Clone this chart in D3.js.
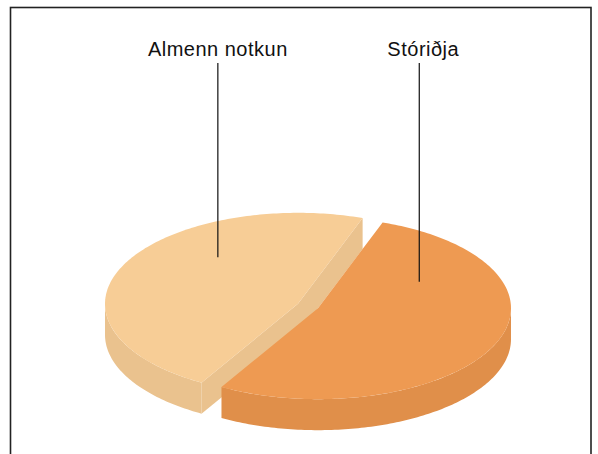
<!DOCTYPE html>
<html>
<head>
<meta charset="utf-8">
<script src="https://cdn.jsdelivr.net/npm/d3@7"></script>
<style>
  body { margin: 0; background: #fff; }
  svg { display: block; }
</style>
</head>
<body>
<div id="chart"></div>
<script>
// data
var categories = ["Almenn notkun", "Stóriðja"];
var values = [47.1, 52.9];
var topColors = ["#F7CD96", "#EE9A52"];
var sideColors = ["#EAC28E", "#E08F4A"];

var width = 598,
    height = 454,
    cx = 308, cy = 306,
    rx = 193, ry = 91,
    depth = 31,
    explode = 11,
    deg = Math.PI / 180;

// where the leader lines touch each slice (angle in deg, fraction of radius)
var leaderAngle = [321, 61],
    leaderFrac = [0.66, 0.6],
    labelY = 56,
    lineTop = 63;

var svg = d3.select("#chart").append("svg")
    .attr("width", width)
    .attr("height", height);

// frame
svg.append("rect")
    .attr("x", 10.5).attr("y", 7.5)
    .attr("width", 580.5).attr("height", 470)
    .attr("fill", "none")
    .attr("stroke", "#222")
    .attr("stroke-width", 1.6);

var pie = d3.pie()
    .sort(null)
    .startAngle(210 * deg)
    .endAngle(570 * deg);

var arcs = pie(values);

// project a point in the pie plane; a = angle clockwise from north
function proj(c, a, r, h) {
    return [c[0] + r * rx * Math.sin(a), c[1] - r * ry * Math.cos(a) + (h || 0)];
}

var line = d3.line();

function rim(c, a0, a1, h) {
    var n = Math.max(2, Math.ceil((a1 - a0) / (1 * deg)));
    return d3.range(n + 1).map(function (i) {
        return proj(c, a0 + (a1 - a0) * i / n, 1, h);
    });
}

arcs.forEach(function (d, i) {
    var mid = (d.startAngle + d.endAngle) / 2;
    var c = [cx + explode * Math.sin(mid), cy - explode * Math.cos(mid) * ry / rx];
    d.center = c;
    var g = svg.append("g").attr("class", "slice");

    // cut faces facing the viewer
    [[d.startAngle, d.startAngle - Math.PI / 2], [d.endAngle, d.endAngle + Math.PI / 2]].forEach(function (e) {
        if (Math.cos(e[1]) < 0) {
            var p = proj(c, e[0], 1, 0);
            g.append("path")
                .attr("d", line([c, p, [p[0], p[1] + depth], [c[0], c[1] + depth]]) + "Z")
                .attr("fill", sideColors[i]);
        }
    });

    // outer wall, front half only
    [[90, 270], [450, 630]].forEach(function (w) {
        var s = Math.max(d.startAngle, w[0] * deg),
            t = Math.min(d.endAngle, w[1] * deg);
        if (t > s) {
            var pts = rim(c, s, t, 0).concat(rim(c, s, t, depth).reverse());
            g.append("path")
                .attr("d", line(pts) + "Z")
                .attr("fill", sideColors[i]);
        }
    });

    // top face
    g.append("path")
        .attr("d", line([c].concat(rim(c, d.startAngle, d.endAngle, 0))) + "Z")
        .attr("fill", topColors[i]);
});

// labels and leader lines
arcs.forEach(function (d, i) {
    var p = proj(d.center, leaderAngle[i] * deg, leaderFrac[i], 0);
    svg.append("line")
        .attr("x1", p[0]).attr("x2", p[0])
        .attr("y1", lineTop).attr("y2", p[1])
        .attr("stroke", "#111")
        .attr("stroke-width", 1.2);
    svg.append("text")
        .attr("x", p[0] + (i === 1 ? 4 : 0))
        .attr("y", labelY)
        .attr("text-anchor", "middle")
        .attr("font-family", "Liberation Sans, Arial, Helvetica, sans-serif")
        .attr("font-size", 20)
        .attr("letter-spacing", 0.5)
        .attr("fill", "#111")
        .text(categories[i]);
});
</script>
</body>
</html>
